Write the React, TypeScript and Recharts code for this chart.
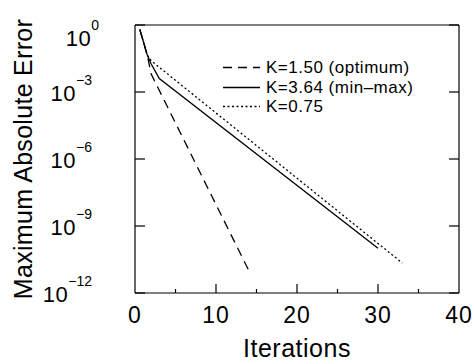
import { LineChart, Line, XAxis, YAxis, Legend } from "recharts";

// iterations / max abs error (break points of each curve)
const optimumIter = [0.6, 1.5, 2, 14];
const optimumErr = [0.63, 0.047, 0.0063, 1.1e-11];
const minmaxIter = [0.6, 1.5, 2, 3, 30];
const minmaxErr = [0.63, 0.047, 0.018, 0.004, 1.0e-10];
const lowIter = [0.6, 1.5, 2, 33];
const lowErr = [0.63, 0.047, 0.025, 2.2e-11];

const seriesNames = ["K=1.50 (optimum)", "K=3.64 (min\u2013max)", "K=0.75"];
const xTicks = [0, 5, 10, 15, 20, 25, 30, 35, 40];
const yTicks = [1, 1e-3, 1e-6, 1e-9, 1e-12];
const yExp = ["0", "\u22123", "\u22126", "\u22129", "\u221212"];

const FONT = "'Liberation Sans', Arial, Helvetica, sans-serif";

const toRows = (xs: number[], ys: number[]) => xs.map((it, i) => ({ it, err: ys[i] }));
const optimum = toRows(optimumIter, optimumErr);
const minmax = toRows(minmaxIter, minmaxErr);
const low = toRows(lowIter, lowErr);

function BottomTick({ x, y, payload }: any) {
  const v = payload.value;
  const major = v % 10 === 0;
  const edge = v === 0 || v === 40;
  return (
    <g>
      {!edge && <line x1={x} x2={x} y1={y} y2={y - (major ? 9 : 4)} stroke="#000" strokeWidth={1.2} />}
      {major && (
        <text x={x} y={y + 30} textAnchor="middle" fontSize={23} letterSpacing={1} fontFamily={FONT} fill="#000">
          {v}
        </text>
      )}
    </g>
  );
}

function TopTick({ x, y, payload }: any) {
  const v = payload.value;
  if (v === 0 || v === 40) return <g />;
  const major = v % 10 === 0;
  return <line x1={x} x2={x} y1={y} y2={y + (major ? 9 : 4)} stroke="#000" strokeWidth={1.2} />;
}

function LeftTick({ x, y, payload, index }: any) {
  const v = payload.value;
  const first = v === 1;
  const base = first ? y + 21 : y + 9;
  const right = first ? x - 36 : x - 43;
  return (
    <g>
      <line x1={x} x2={x + 10} y1={y} y2={y} stroke="#000" strokeWidth={1.2} />
      <text x={right} y={base} textAnchor="end" fontFamily={FONT} fill="#000">
        <tspan fontSize={22} letterSpacing={0.5}>10</tspan>
        <tspan fontSize={14} dy={-16}>{yExp[index]}</tspan>
      </text>
    </g>
  );
}

function RightTick({ x, y }: any) {
  return <line x1={x} x2={x - 10} y1={y} y2={y} stroke="#000" strokeWidth={1.2} />;
}

function LegendBox({ payload }: any) {
  const items = [...(payload || [])].sort(
    (a: any, b: any) => seriesNames.indexOf(a.value) - seriesNames.indexOf(b.value)
  );
  return (
    <div style={{ fontFamily: FONT, fontSize: 17, letterSpacing: 0.5, lineHeight: "19.5px" }}>
      {items.map((e: any) => (
        <div key={e.value} style={{ display: "flex", alignItems: "center", whiteSpace: "nowrap", height: 19.5 }}>
          <svg width={40} height={19}>
            <line
              x1={1}
              x2={38}
              y1={9.5}
              y2={9.5}
              stroke="#000"
              strokeWidth={1.3}
              strokeDasharray={e.payload?.strokeDasharray}
            />
          </svg>
          <span style={{ marginLeft: 4 }}>{e.value}</span>
        </div>
      ))}
    </div>
  );
}

export default function App() {
  return (
    <div style={{ position: "absolute", left: 0, top: 0, width: 474, height: 364, background: "#fff", fontFamily: FONT }}>
      <LineChart width={474} height={364} margin={{ top: 24, right: 14, bottom: 0, left: 0 }}>
        <XAxis
          xAxisId="b"
          dataKey="it"
          type="number"
          domain={[0, 40]}
          ticks={xTicks}
          interval={0}
          tickSize={0}
          tickMargin={0}
          tickLine={false}
          tick={<BottomTick />}
          axisLine={{ stroke: "#000", strokeWidth: 1.2 }}
          height={71}
          allowDataOverflow
          label={{
            content: ({ viewBox }: any) => (
              <text
                x={viewBox.x + viewBox.width / 2}
                y={viewBox.y + 64}
                textAnchor="middle"
                fontSize={25}
                letterSpacing={0.5}
                fontFamily={FONT}
                fill="#000"
              >
                Iterations
              </text>
            ),
          }}
        />
        <XAxis
          xAxisId="t"
          orientation="top"
          type="number"
          domain={[0, 40]}
          ticks={xTicks}
          interval={0}
          tickSize={0}
          tickMargin={0}
          tickLine={false}
          tick={<TopTick />}
          axisLine={{ stroke: "#000", strokeWidth: 1.2 }}
          height={1}
          allowDataOverflow
        />
        <YAxis
          yAxisId="l"
          dataKey="err"
          scale="log"
          domain={[1e-12, 1]}
          ticks={yTicks}
          interval={0}
          tickSize={0}
          tickMargin={0}
          tickLine={false}
          tick={<LeftTick />}
          axisLine={{ stroke: "#000", strokeWidth: 1.2 }}
          width={135}
          allowDataOverflow
          label={{
            content: ({ viewBox }: any) => {
              const cx = viewBox.x + 32;
              const cy = viewBox.y + viewBox.height / 2;
              return (
                <text
                  x={cx}
                  y={cy}
                  transform={`rotate(-90 ${cx} ${cy})`}
                  textAnchor="middle"
                  fontSize={25}
                  letterSpacing={0.3}
                  fontFamily={FONT}
                  fill="#000"
                >
                  Maximum Absolute Error
                </text>
              );
            },
          }}
        />
        <YAxis
          yAxisId="r"
          orientation="right"
          scale="log"
          domain={[1e-12, 1]}
          ticks={yTicks}
          interval={0}
          tickSize={0}
          tickMargin={0}
          tickLine={false}
          tick={<RightTick />}
          axisLine={{ stroke: "#000", strokeWidth: 1.2 }}
          width={1}
          allowDataOverflow
        />
        <Legend
          layout="vertical"
          align="center"
          verticalAlign="middle"
          content={<LegendBox />}
          wrapperStyle={{ position: "absolute", left: 222, top: 58, width: "auto" }}
        />
        <Line
          xAxisId="b"
          yAxisId="l"
          data={optimum}
          dataKey="err"
          name={seriesNames[0]}
          type="linear"
          stroke="#000"
          strokeWidth={1.3}
          strokeDasharray="9 6"
          dot={false}
          isAnimationActive={false}
        />
        <Line
          xAxisId="b"
          yAxisId="l"
          data={minmax}
          dataKey="err"
          name={seriesNames[1]}
          type="linear"
          stroke="#000"
          strokeWidth={1.3}
          dot={false}
          isAnimationActive={false}
        />
        <Line
          xAxisId="b"
          yAxisId="l"
          data={low}
          dataKey="err"
          name={seriesNames[2]}
          type="linear"
          stroke="#000"
          strokeWidth={1.3}
          strokeDasharray="2 2.5"
          dot={false}
          isAnimationActive={false}
        />
      </LineChart>
    </div>
  );
}
